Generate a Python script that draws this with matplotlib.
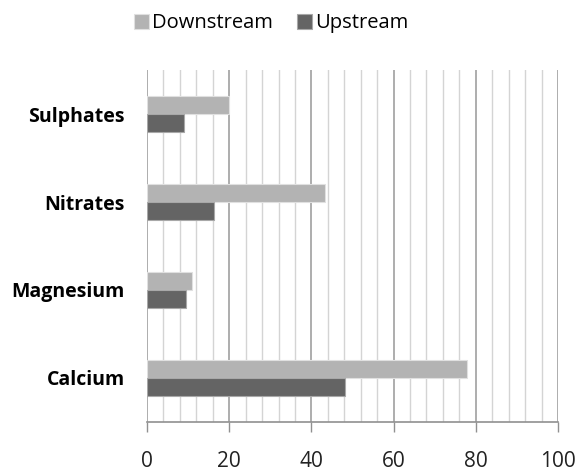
import numpy as np
import matplotlib
matplotlib.use('Agg')
import matplotlib.pyplot as plt
from matplotlib.ticker import MultipleLocator

plt.rcParams['font.family'] = ['Open Sans', 'DejaVu Sans']

categories = ['Calcium', 'Magnesium', 'Nitrates', 'Sulphates']
downstream = [77.8, 11.0, 43.2, 20.0]
upstream = [48.1, 9.4, 16.3, 9.1]
x_ticks = [0, 20, 40, 60, 80, 100]

light = '#b3b3b3'
dark = '#646464'

fig = plt.figure(figsize=(5.77, 4.75), dpi=100)
ax = fig.add_axes([0.2548, 0.1116, 0.7122, 0.741])

y = np.arange(len(categories))
h = 0.2
ax.barh(y + h / 2, downstream, height=h, color=light, edgecolor='#e0e0e0',
        linewidth=0.8, label='Downstream', zorder=3)
ax.barh(y - h / 2, upstream, height=h, color=dark, edgecolor='#a8a8a8',
        linewidth=0.8, label='Upstream', zorder=3)

ax.set_xlim(0, 100)
ax.set_ylim(-0.5, len(categories) - 0.5)
ax.set_xticks(x_ticks)
ax.xaxis.set_minor_locator(MultipleLocator(4))
ax.grid(axis='x', which='minor', color='#d4d4d4', linewidth=1.0, zorder=0)
ax.grid(axis='x', which='major', color='#a0a0a0', linewidth=1.2, zorder=0)

ax.set_yticks(y)
ax.set_yticklabels(categories, fontsize=14, fontweight='bold')
ax.tick_params(axis='y', length=0, pad=16)
ax.tick_params(axis='x', which='major', length=7, color='#909090', width=1,
               labelsize=15, pad=14, labelcolor='#222222')
ax.tick_params(axis='x', which='minor', length=0)

for s in ['top', 'right', 'left']:
    ax.spines[s].set_visible(False)
ax.spines['bottom'].set_color('#909090')
ax.spines['bottom'].set_linewidth(1.2)

fig.legend(loc='upper center', bbox_to_anchor=(0.47, 1.01), ncol=2, frameon=False,
           fontsize=14.5, handlelength=0.75, handleheight=0.75, handletextpad=0.15,
           columnspacing=1.2)

fig.savefig('out.png', dpi=100)
